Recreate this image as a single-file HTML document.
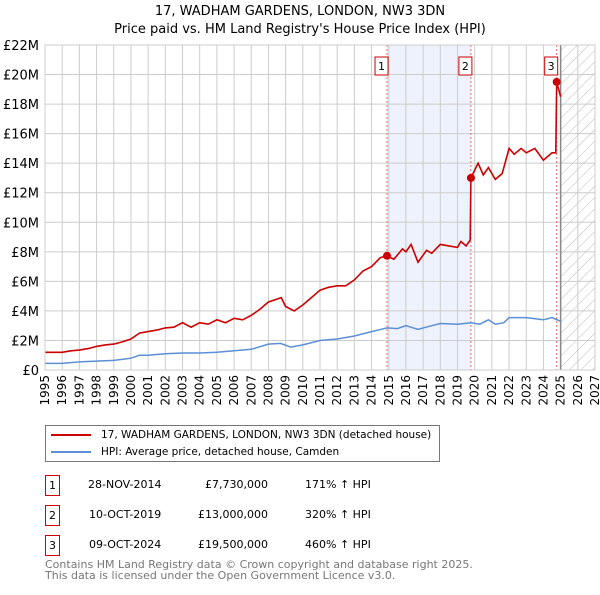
<!DOCTYPE html>
<html><head><meta charset="utf-8"><style>
body{margin:0;background:#fff;font-family:"Liberation Sans","DejaVu Sans",sans-serif;}
#wrap{position:relative;width:600px;height:590px;}
svg text{font-family:"DejaVu Sans","Liberation Sans",sans-serif;}
.tb span{white-space:nowrap}
</style></head><body><div id="wrap">
<svg id="c" width="600" height="590" xmlns="http://www.w3.org/2000/svg"></svg>
</div>
<script>
const years=[1995,1996,1997,1998,1999,2000,2001,2002,2003,2004,2005,2006,2007,2008,2009,2010,2011,2012,2013,2014,2015,2016,2017,2018,2019,2020,2021,2022,2023,2024,2025,2026,2027];
const yTicks=[0,2,4,6,8,10,12,14,16,18,20,22];
const redDates=[1995.0,1995.5,1996.0,1996.5,1997.0,1997.5,1998.0,1998.5,1999.0,1999.5,2000.0,2000.5,2001.0,2001.5,2002.0,2002.5,2003.0,2003.5,2004.0,2004.5,2005.0,2005.5,2006.0,2006.5,2007.0,2007.5,2008.0,2008.5,2008.75,2009.0,2009.5,2010.0,2010.5,2011.0,2011.5,2012.0,2012.5,2013.0,2013.5,2014.0,2014.5,2014.9,2015.3,2015.8,2016.0,2016.3,2016.7,2017.2,2017.5,2018.0,2018.5,2019.0,2019.2,2019.5,2019.74,2019.78,2020.2,2020.5,2020.8,2021.2,2021.6,2022.0,2022.3,2022.7,2023.0,2023.5,2024.0,2024.5,2024.72,2024.77,2025.0];
const redValues=[1.2,1.2,1.2,1.3,1.35,1.45,1.6,1.7,1.75,1.9,2.1,2.5,2.6,2.7,2.85,2.9,3.2,2.9,3.2,3.1,3.4,3.2,3.5,3.4,3.7,4.1,4.6,4.8,4.9,4.3,4.0,4.4,4.9,5.4,5.6,5.7,5.7,6.1,6.7,7.0,7.6,7.73,7.5,8.2,8.0,8.5,7.3,8.1,7.9,8.5,8.4,8.3,8.7,8.4,8.8,13.0,14.0,13.2,13.7,12.9,13.3,15.0,14.6,15.0,14.7,15.0,14.2,14.7,14.7,19.5,18.5];
const blueDates=[1995,1996,1997,1998,1999,2000,2000.5,2001,2002,2003,2004,2005,2006,2007,2008,2008.7,2009.3,2010,2011,2012,2013,2014,2014.9,2015.5,2016,2016.7,2017.5,2018,2019,2019.8,2020.3,2020.8,2021.2,2021.7,2022,2023,2024,2024.5,2025];
const blueValues=[0.45,0.45,0.55,0.6,0.65,0.8,1.0,1.0,1.1,1.15,1.15,1.2,1.3,1.4,1.75,1.8,1.55,1.7,2.0,2.1,2.3,2.6,2.85,2.8,3.0,2.75,3.0,3.15,3.1,3.2,3.1,3.4,3.1,3.2,3.55,3.55,3.4,3.55,3.3];
const saleDates=[2014.9,2019.78,2024.77];
const saleValues=[7.73,13.0,19.5];
const saleLabels=["1","2","3"];
const L=45,R=595,T=45,B=370;
const X=d=>L+(d-1995)/(2027-1995)*(R-L);
const Y=v=>B-v/22*(B-T);
const svg=document.getElementById('c');const NS="http://www.w3.org/2000/svg";
function mk(t,a,p){const e=document.createElementNS(NS,t);for(const k in a)e.setAttribute(k,a[k]);(p||svg).appendChild(e);return e;}
function txt(s,a){const e=mk('text',a);e.textContent=s;return e;}
let t=txt("17, WADHAM GARDENS, LONDON, NW3 3DN",{x:300,y:15,'text-anchor':'middle','font-size':13});


t=txt("Price paid vs. HM Land Registry's House Price Index (HPI)",{x:300,y:33,'text-anchor':'middle','font-size':13});


let sh=mk('rect',{x:X(saleDates[0]),y:T,width:X(saleDates[1])-X(saleDates[0]),height:B-T,fill:'#eef2fc'});


const defs=mk('defs',{});const pat=mk('pattern',{id:'h',width:8,height:8,patternUnits:'userSpaceOnUse',patternTransform:'rotate(45)'},defs);
mk('line',{x1:0,y1:0,x2:0,y2:8,stroke:'#bbb','stroke-width':1},pat);
let hz=mk('rect',{x:X(2025),y:T,width:R-X(2025),height:B-T,fill:'url(#h)'});


years.forEach(y=>{mk('line',{x1:X(y),y1:T,x2:X(y),y2:B,stroke:'#ccc','stroke-width':1});
 const tx=txt(String(y),{x:0,y:0,'font-size':12,transform:`translate(${X(y)+4},${B+5}) rotate(-90)`,'text-anchor':'end'});
 
 });
yTicks.forEach(v=>{mk('line',{x1:L,y1:Y(v),x2:R,y2:Y(v),stroke:'#ccc','stroke-width':1});
 const tx=txt(v===0?'£0':'£'+v+'M',{x:39,y:Y(v)+5,'text-anchor':'end','font-size':13});
 
 });
mk('line',{x1:X(2025),y1:T,x2:X(2025),y2:B,stroke:'#888','stroke-width':1.5});
saleDates.forEach(d=>mk('line',{x1:X(d),y1:T,x2:X(d),y2:B,stroke:'#e66','stroke-width':1,'stroke-dasharray':'2,2'}));
const pth=(ds,vs)=>ds.map((d,i)=>(i?'L':'M')+X(d).toFixed(1)+' '+Y(vs[i]).toFixed(1)).join(' ');
let bl=mk('path',{d:pth(blueDates,blueValues),fill:'none',stroke:'#5b8fd6','stroke-width':1.5});


let rl=mk('path',{d:pth(redDates,redValues),fill:'none',stroke:'#cc0000','stroke-width':1.6});


saleDates.forEach((d,i)=>{const c=mk('circle',{cx:X(d),cy:Y(saleValues[i]),r:4,fill:'#cc0000'});
 
 
 const g=mk('g',{});
 
 
 mk('rect',{x:X(d)-12,y:57,width:13,height:18,fill:'#fff',stroke:'#cc0000'},g);
 const tt=mk('text',{x:X(d)-5.5,y:70,'text-anchor':'middle','font-size':11},g);tt.textContent=saleLabels[i];});
mk('rect',{x:L,y:T,width:R-L,height:B-T,fill:'none',stroke:'#ccc'});
</script>
<div style="position:absolute;left:45px;top:425px;width:393px;height:35px;border:1px solid #777;font-size:10.5px;font-family:'DejaVu Sans','Liberation Sans',sans-serif;">
<div style="position:absolute;left:5px;top:3px;white-space:nowrap"><span style="display:inline-block;width:40px;height:2px;background:#cc0000;vertical-align:middle;margin-right:10px"></span>17, WADHAM GARDENS, LONDON, NW3 3DN (detached house)</div>
<div style="position:absolute;left:5px;top:20px;white-space:nowrap"><span style="display:inline-block;width:40px;height:2px;background:#5b8fd6;vertical-align:middle;margin-right:10px"></span>HPI: Average price, detached house, Camden</div>
</div>
<div class="tb" style="position:absolute;left:0;top:0;font-size:11px;font-family:'DejaVu Sans','Liberation Sans',sans-serif;">
<div><span style="position:absolute;left:45px;top:475px;width:13px;height:19px;border:1px solid #cc0000;text-align:center;line-height:19px">1</span><span style="position:absolute;left:88px;top:478px">28-NOV-2014</span><span style="position:absolute;left:205px;top:478px">£7,730,000</span><span style="position:absolute;left:305px;top:478px">171% ↑ HPI</span></div>
<div><span style="position:absolute;left:45px;top:505px;width:13px;height:19px;border:1px solid #cc0000;text-align:center;line-height:19px">2</span><span style="position:absolute;left:89px;top:508px">10-OCT-2019</span><span style="position:absolute;left:198px;top:508px">£13,000,000</span><span style="position:absolute;left:305px;top:508px">320% ↑ HPI</span></div>
<div><span style="position:absolute;left:45px;top:535px;width:13px;height:19px;border:1px solid #cc0000;text-align:center;line-height:19px">3</span><span style="position:absolute;left:89px;top:538px">09-OCT-2024</span><span style="position:absolute;left:198px;top:538px">£19,500,000</span><span style="position:absolute;left:305px;top:538px">460% ↑ HPI</span></div>
</div>
<div style="position:absolute;left:45px;top:559px;font-size:11px;line-height:11px;color:#777;font-family:'DejaVu Sans','Liberation Sans',sans-serif;">Contains HM Land Registry data © Crown copyright and database right 2025.<br>This data is licensed under the Open Government Licence v3.0.</div>
</body></html>
